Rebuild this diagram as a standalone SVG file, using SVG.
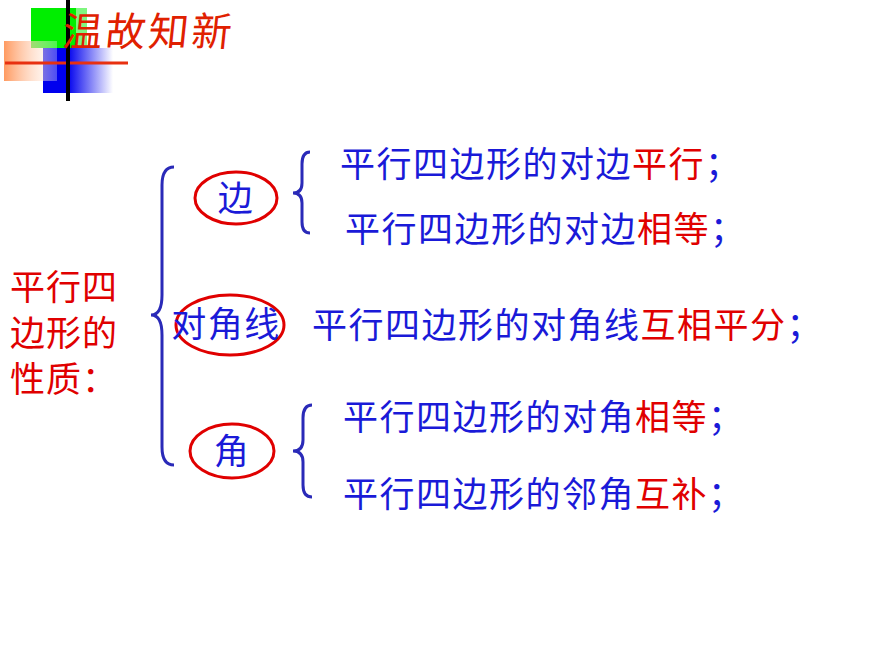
<svg xmlns="http://www.w3.org/2000/svg" width="870" height="653" viewBox="0 0 870 653">
<style>
.t{font-family:"Noto Sans CJK SC","Liberation Sans",sans-serif;fill:#1a1ad8;font-size:35px;letter-spacing:1.5px}
.r{fill:#e00000}
.l{font-family:"Noto Sans CJK SC",sans-serif;fill:#e00000;font-size:35px;letter-spacing:1px}
.b{fill:none;stroke:#2a2ab8;stroke-width:3}
.e{fill:none;stroke:#e00000;stroke-width:3}
</style>
<defs>
<linearGradient id="og" x1="0" x2="1"><stop offset="0" stop-color="#ff9a60"/><stop offset="1" stop-color="#fff" stop-opacity="0.3"/></linearGradient>
<linearGradient id="bg" x1="0" x2="1"><stop offset="0.35" stop-color="#0000ee"/><stop offset="1" stop-color="#fff"/></linearGradient>
</defs>
<rect width="870" height="653" fill="#fff"/>
<g id="logo">
<rect x="31" y="8" width="45" height="40" fill="#00ee00"/>
<rect x="57" y="8" width="30" height="40" fill="#00ee00" opacity="0.5"/>
<rect x="43" y="48" width="70" height="45" fill="url(#bg)"/>
<rect x="4" y="41" width="53" height="40" fill="url(#og)"/>
<line x1="5" y1="63" x2="128" y2="63" stroke="#e83010" stroke-width="3"/>
<line x1="68" y1="0" x2="68" y2="101" stroke="#000" stroke-width="4"/>
<text x="62" y="46" font-family="Noto Sans CJK SC,sans-serif" font-size="40" letter-spacing="3" fill="#e02000" transform="skewX(-6) translate(4,0)">温故知新</text>
</g>
<g id="title"><text class="l" x="10" y="300">平行四</text><text class="l" x="10" y="346">边形的</text><text class="l" x="10" y="392">性质：</text></g>
<g id="connectors">
<path class="b" d="M174,167 Q162,167 162,185 L162,295 Q162,315 151,315 Q162,315 162,335 L162,447 Q162,465 174,465"/>
<path class="b" d="M310,152 Q302,152 302,164 L302,183 Q302,193 293,193 Q302,193 302,203 L302,222 Q302,233 310,233"/>
<path class="b" d="M312,405 Q303,405 303,418 L303,440 Q303,451 293,451 Q303,451 303,462 L303,485 Q303,497 312,497"/>
</g>
<g id="n1"><ellipse class="e" cx="236" cy="198" rx="41" ry="26"/><text class="t" x="236" y="211" text-anchor="middle" letter-spacing="0">边</text></g>
<g id="n2"><ellipse class="e" cx="230" cy="325" rx="54" ry="30"/><text class="t" x="226" y="337" text-anchor="middle" font-size="31" letter-spacing="0">对角线</text></g>
<g id="n3"><ellipse class="e" cx="232" cy="451" rx="42" ry="27"/><text class="t" x="232" y="464" text-anchor="middle" letter-spacing="0">角</text></g>
<g id="texts">
<text class="t" x="340" y="177">平行四边形的对边<tspan class="r">平行</tspan>；</text>
<text class="t" x="345" y="242">平行四边形的对边<tspan class="r">相等</tspan>；</text>
<text class="t" x="312" y="338">平行四边形的对角线<tspan class="r">互相平分</tspan>；</text>
<text class="t" x="343" y="430">平行四边形的对角<tspan class="r">相等</tspan>；</text>
<text class="t" x="343" y="507">平行四边形的邻角<tspan class="r">互补</tspan>；</text>
</g>
</svg>
